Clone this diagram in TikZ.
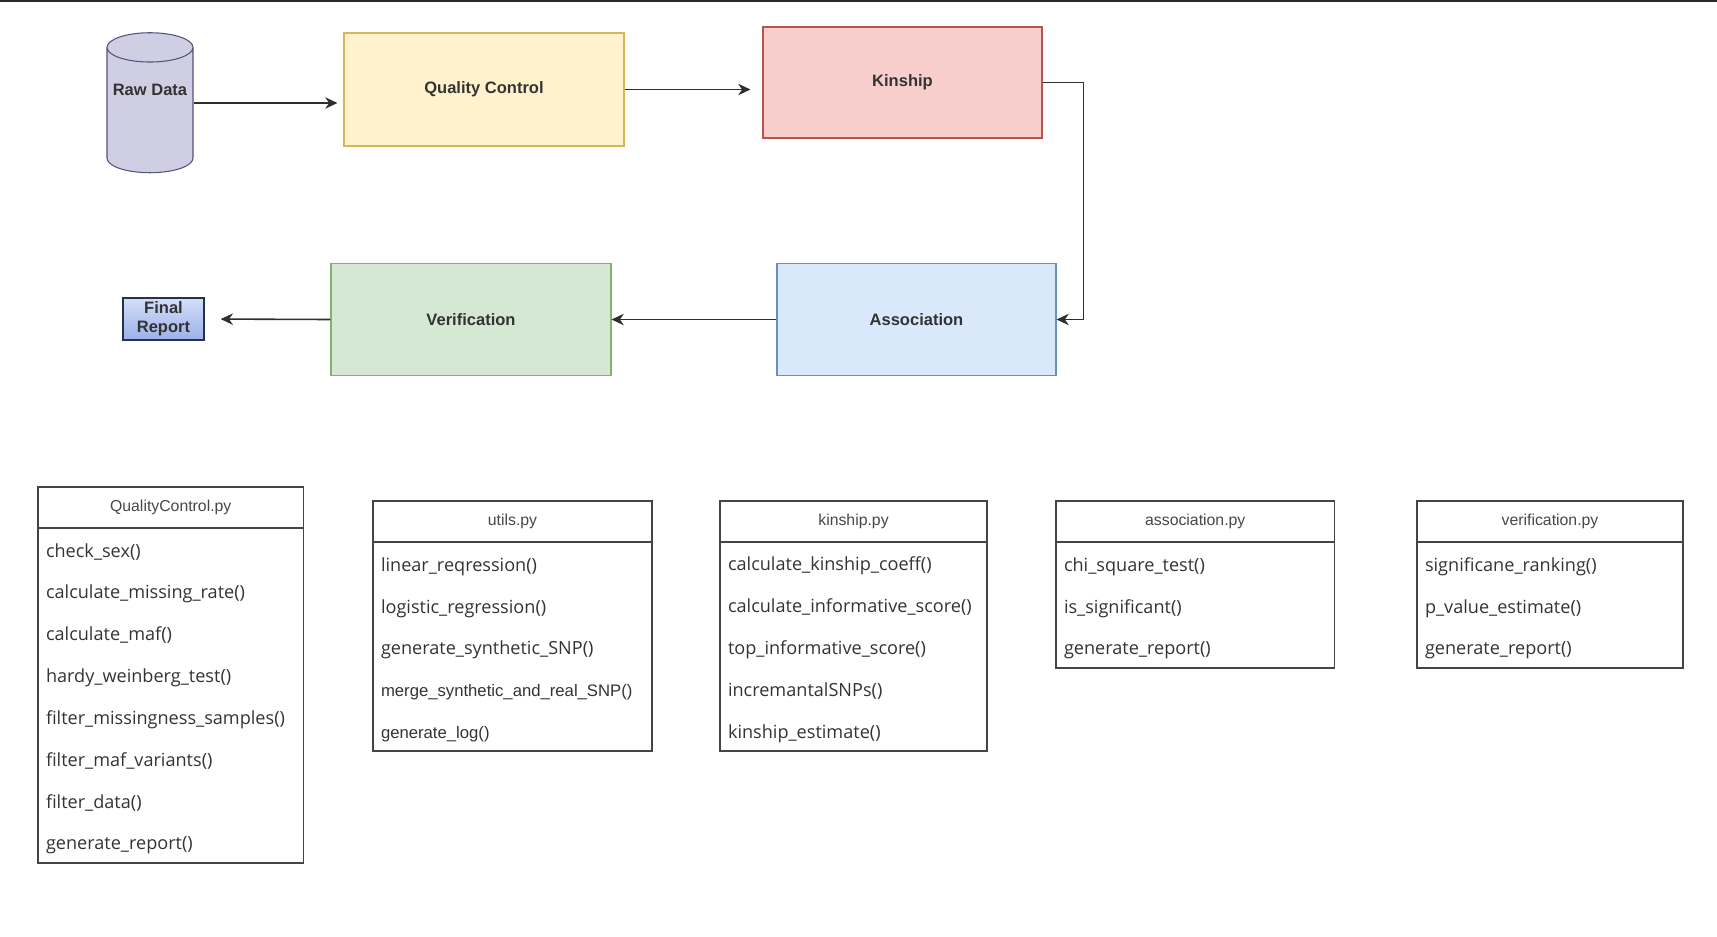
\documentclass[tikz,border=0pt]{standalone}
\usepackage{fontspec}
\setmainfont{Liberation Sans}
\newfontfamily\opensans{Open Sans}
\usetikzlibrary{arrows.meta,positioning,shapes.geometric}

\definecolor{txt}{HTML}{333333}
\definecolor{headtxt}{HTML}{474747}
\definecolor{boxline}{HTML}{444444}
\definecolor{wire}{HTML}{2E2E2E}
\definecolor{topline}{HTML}{2A2A2A}
\definecolor{rawfill}{HTML}{D0CEE2}
\definecolor{rawline}{HTML}{56517E}
\definecolor{qcfill}{HTML}{FFF2CC}
\definecolor{qcline}{HTML}{D6B656}
\definecolor{kinfill}{HTML}{F8CECC}
\definecolor{kinline}{HTML}{B85450}
\definecolor{assocfill}{HTML}{DAE8FC}
\definecolor{assocline}{HTML}{6C8EBF}
\definecolor{veriffill}{HTML}{D5E8D4}
\definecolor{verifline}{HTML}{82B366}
\definecolor{finaltop}{HTML}{D4DEF8}
\definecolor{finalbot}{HTML}{9BB1EA}
\definecolor{finalline}{HTML}{26304F}

\newcommand{\stagefont}{\fontsize{9.4}{11}\selectfont\bfseries}
\newcommand{\headfont}{\fontsize{9}{11}\selectfont}
\newcommand{\itemfont}{\opensans\fontsize{10.3}{23.8}\selectfont\hyphenpenalty=10000 }
\newcommand{\narrowfont}{\rmfamily\fontsize{9.5}{23.8}\selectfont}

\begin{document}
\begin{tikzpicture}[
  stage/.style={draw, line width=0.6pt, font=\stagefont, text=txt},
  flow/.style={draw=wire, line width=0.9pt, -{Stealth[length=7pt,width=6.5pt]}},
  classhead/.style={draw=boxline, line width=0.7pt, anchor=north west, outer sep=0pt,
    inner sep=0pt, minimum height=0.82cm, font=\headfont, text=headtxt},
  classbody/.style={draw=boxline, line width=0.7pt, outer sep=0pt, inner xsep=0.16cm,
    inner ysep=0pt, align=left, font=\itemfont, text=txt,
    execute at begin node={\rule{0pt}{11.6pt}}}
]
\useasboundingbox (0,0) rectangle (34.34,-18.72);
\draw[line width=0.9pt, topline] (0,-0.02) -- (34.34,-0.02);

% pipeline
\node[cylinder, shape border rotate=90, aspect=2.5, draw=rawline, fill=rawfill, line width=0.6pt,
  minimum width=1.72cm, minimum height=2.8cm,
  label={[font=\stagefont, text=txt, yshift=0.48cm]center:Raw Data}] (raw) at (3.0,-2.28) {};
\node[stage, draw=qcline, fill=qcfill, minimum width=5.6cm, minimum height=2.26cm] (qc) at (9.68,-1.79) {Quality Control};
\node[stage, draw=kinline, fill=kinfill, minimum width=5.58cm, minimum height=2.22cm] (kin) at (18.05,-1.65) {Kinship};
\node[stage, draw=assocline, fill=assocfill, minimum width=5.58cm, minimum height=2.24cm] (assoc) at (18.33,-6.39) {Association};
\node[stage, draw=verifline, fill=veriffill, minimum width=5.6cm, minimum height=2.24cm] (verif) at (9.42,-6.39) {Verification};
\node[stage, draw=finalline, line width=0.8pt, top color=finaltop, bottom color=finalbot,
  minimum width=1.62cm, minimum height=0.84cm, inner sep=0pt, align=center,
  font=\fontsize{9.4}{10.8}\selectfont\bfseries, text=txt] (final) at (3.27,-6.38) {Final\\Report};

\draw[flow, shorten >=0.12cm] ([yshift=0.22cm]raw.east) -- ([yshift=0.22cm]raw.east -| qc.west);
\draw[flow, shorten >=0.24cm] (qc.east) -- (qc.east -| kin.west);
\draw[flow] (kin.east) -- ++(0.82,0) |- (assoc.east);
\draw[flow] (assoc.west) -- (verif.east);
\draw[flow, shorten >=0.32cm] (verif.west) -- (final.east);

% python modules
\node[classhead, minimum width=5.31cm] (qcpy) at (0.76,-9.74) {QualityControl.py};
\node[classbody, text width=4.99cm, minimum height=6.7cm, below=0pt of qcpy] (qcfun)
  {check\_sex()\\calculate\_missing\_rate()\\calculate\_maf()\\hardy\_weinberg\_test()\\
   filter\_missingness\_samples()\\filter\_maf\_variants()\\filter\_data()\\generate\_report()};

\node[classhead, minimum width=5.58cm] (utilspy) at (7.46,-10.02) {utils.py};
\node[classbody, text width=5.26cm, minimum height=4.18cm, below=0pt of utilspy] (utilsfun)
  {linear\_reqression()\\logistic\_regression()\\generate\_synthetic\_SNP()\\
   {\narrowfont merge\_synthetic\_and\_real\_SNP()}\\{\narrowfont generate\_log()}};

\node[classhead, minimum width=5.34cm] (kinpy) at (14.40,-10.02) {kinship.py};
\node[classbody, text width=5.02cm, minimum height=4.18cm, below=0pt of kinpy] (kinfun)
  {calculate\_kinship\_coeff()\\calculate\_informative\_score()\\top\_informative\_score()\\
   incremantalSNPs()\\kinship\_estimate()};

\node[classhead, minimum width=5.57cm] (assocpy) at (21.12,-10.02) {association.py};
\node[classbody, text width=5.25cm, minimum height=2.52cm, below=0pt of assocpy] (assocfun)
  {chi\_square\_test()\\is\_significant()\\generate\_report()};

\node[classhead, minimum width=5.32cm] (verifpy) at (28.34,-10.02) {verification.py};
\node[classbody, text width=5.0cm, minimum height=2.52cm, below=0pt of verifpy] (veriffun)
  {significane\_ranking()\\p\_value\_estimate()\\generate\_report()};
\end{tikzpicture}
\end{document}
